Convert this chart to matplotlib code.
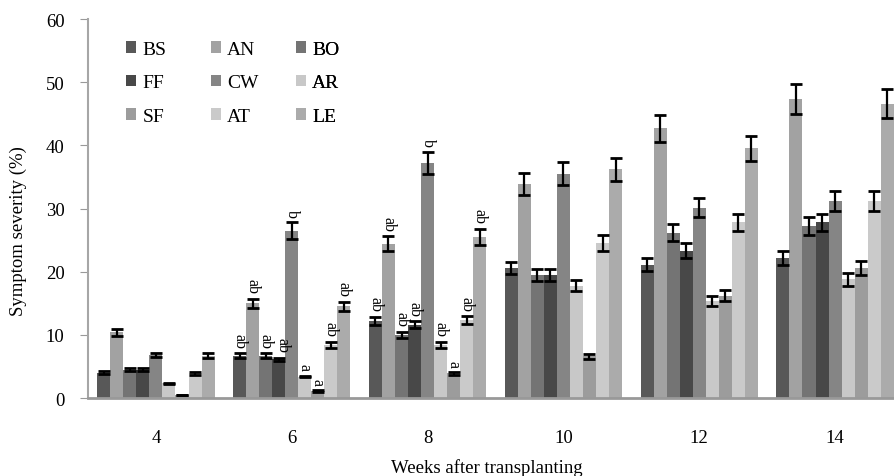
import numpy as np
import matplotlib
matplotlib.use("Agg")
import matplotlib.pyplot as plt
from matplotlib.patches import Patch

plt.rcParams['font.family'] = ['Liberation Serif', 'DejaVu Serif']

weeks = ["4", "6", "8", "10", "12", "14"]
treatments = ["BS", "AN", "BO", "FF", "CW", "AR", "SF", "AT", "LE"]

COLORS = {
    "BS": "#585858",
    "AN": "#a2a2a2",
    "BO": "#747474",
    "FF": "#484848",
    "CW": "#858585",
    "AR": "#c8c8c8",
    "SF": "#9c9c9c",
    "AT": "#cacaca",
    "LE": "#ababab",
}

# mean severity per treatment, one value per week (4..14)
BS = [4.0, 6.7, 12.2, 20.6, 21.1, 22.2]
AN = [10.4, 15.0, 24.4, 33.9, 42.7, 47.3]
BO = [4.5, 6.7, 10.0, 19.5, 26.2, 27.2]
FF = [4.5, 6.1, 11.6, 19.5, 23.3, 27.8]
CW = [6.8, 26.5, 37.2, 35.5, 30.1, 31.2]
AR = [2.3, 3.4, 8.4, 17.8, 15.4, 18.8]
SF = [0.5, 1.1, 3.9, 6.6, 16.2, 20.6]
AT = [3.9, 8.4, 12.3, 24.5, 27.8, 31.2]
LE = [6.7, 14.5, 25.5, 36.2, 39.5, 46.6]

# standard errors
BS_err = [0.25, 0.4, 0.65, 1.0, 1.0, 1.1]
AN_err = [0.55, 0.75, 1.2, 1.75, 2.15, 2.4]
BO_err = [0.25, 0.4, 0.5, 0.95, 1.3, 1.4]
FF_err = [0.25, 0.25, 0.55, 0.95, 1.2, 1.4]
CW_err = [0.35, 1.3, 1.8, 1.85, 1.5, 1.6]
AR_err = [0.15, 0.15, 0.5, 0.9, 0.8, 1.0]
SF_err = [0.0, 0.15, 0.2, 0.35, 0.85, 1.05]
AT_err = [0.25, 0.5, 0.65, 1.3, 1.4, 1.6]
LE_err = [0.35, 0.7, 1.3, 1.85, 2.0, 2.3]

# significance letters for weeks 6 and 8
letters_w6 = ["ab", "ab", "ab", "ab", "b", "a", "a", "ab", "ab"]
letters_w8 = ["ab", "ab", "ab", "ab", "b", "ab", "a", "ab", "ab"]

means = [BS, AN, BO, FF, CW, AR, SF, AT, LE]
errs = [BS_err, AN_err, BO_err, FF_err, CW_err, AR_err, SF_err, AT_err, LE_err]

fig = plt.figure(figsize=(8.94, 4.77), dpi=100)
ax = fig.add_axes([88 / 894, 1 - 399 / 477, 815 / 894, 379 / 477])

x = np.arange(len(weeks))
width = 0.096
for i, name in enumerate(treatments):
    pos = x + (i - 4) * width
    ax.bar(pos, means[i], width, color=COLORS[name], label=name, zorder=2)
    ax.errorbar(pos, means[i], yerr=errs[i], fmt='none', ecolor='black',
                elinewidth=1.6, capsize=4.5, capthick=2, zorder=3)

for week_idx, letters in [(1, letters_w6), (2, letters_w8)]:
    for i, lab in enumerate(letters):
        pos = x[week_idx] + (i - 4) * width
        top = means[i][week_idx] + errs[i][week_idx]
        # BO and FF labels sit almost on top of each other at week 6
        dx = 2.5 if (week_idx == 1 and treatments[i] == "FF") else 0
        ax.annotate(lab, (pos, top), xytext=(dx, 4), textcoords='offset points',
                    ha='center', va='bottom', rotation=-90, fontsize=11.5)

ax.set_xlim(-0.5, 5.5)
ax.set_ylim(0, 60)
ax.set_yticks(range(0, 61, 10))
ax.set_xticks(x)
ax.set_xticklabels(weeks)
ax.tick_params(axis='y', labelsize=13.5, length=6, color='#999999', pad=11)
ax.tick_params(axis='x', labelsize=13.5, length=0, pad=22)
for side in ['top', 'right']:
    ax.spines[side].set_visible(False)
ax.spines['left'].set_color('#a6a6a6')
ax.spines['left'].set_linewidth(1.5)
ax.spines['bottom'].set_color('#999999')
ax.spines['bottom'].set_linewidth(2)

fig.text(18 / 894, 1 - 231 / 477, "Symptom severity (%)", rotation=90,
         ha='center', va='center', fontsize=13.5)
fig.text(487 / 894, 1 - 468 / 477, "Weeks after transplanting",
         ha='center', va='center', fontsize=13.5)

# legend: three columns (BS FF SF / AN CW AT / BO AR LE), equal spacing
columns = [["BS", "FF", "SF"], ["AN", "CW", "AT"], ["BO", "AR", "LE"]]
col_x = [118, 203, 288]
for names, cx in zip(columns, col_x):
    handles = [Patch(facecolor=COLORS[n], label=n) for n in names]
    leg = ax.legend(handles=handles, loc='upper left',
                    bbox_to_anchor=((cx - 88) / 815, 0.963),
                    frameon=False, fontsize=14, handlelength=0.55, handleheight=0.55,
                    handletextpad=0.3, labelspacing=0.85, borderaxespad=0)
    ax.add_artist(leg)

fig.savefig("out.png", dpi=100)
